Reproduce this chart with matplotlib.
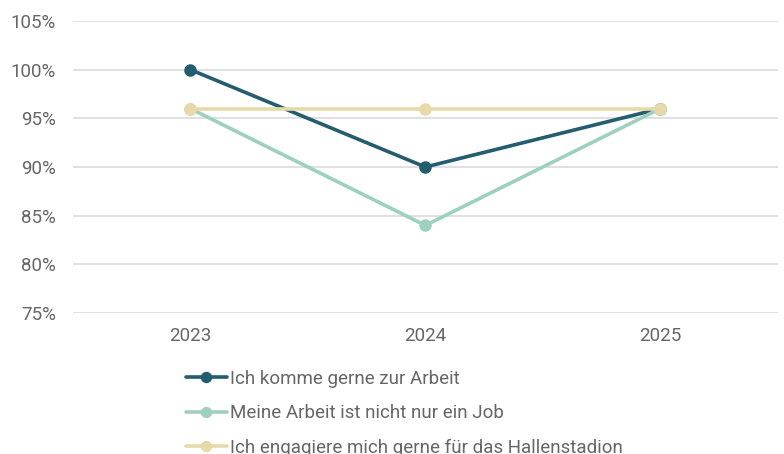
import numpy as np
import matplotlib.pyplot as plt

plt.rcParams['font.family'] = ['Roboto', 'DejaVu Sans']

years = ['2023', '2024', '2025']
arbeit = [100, 90, 96]
job = [96, 84, 96]
engagiere = [96, 96, 96]
labels = ['Ich komme gerne zur Arbeit',
          'Meine Arbeit ist nicht nur ein Job',
          'Ich engagiere mich gerne für das Hallenstadion']
colors = ['#245D6F', '#9DD1BE', '#E8D9A9']

fig = plt.figure(figsize=(7.84, 4.54), dpi=100)
ax = fig.add_axes([0.093, 0.3106, 0.899, 0.6431])

x = np.arange(len(years))
for vals, lab, col in zip([arbeit, job, engagiere], labels, colors):
    ax.plot(x, vals, color=col, lw=2.6, marker='o', markersize=8,
            label=lab, solid_capstyle='round')

ax.set_xlim(-0.5, 2.5)
ax.set_ylim(75, 105)
ax.set_yticks(range(75, 106, 5))
ax.set_yticklabels([f'{v}%' for v in range(75, 106, 5)])
ax.set_xticks(x)
ax.set_xticklabels(years)
ax.grid(axis='y', color='#dddddd', lw=1.3)
ax.set_axisbelow(True)
for s in ax.spines.values():
    s.set_visible(False)
ax.tick_params(length=0, labelsize=13.5, labelcolor='#666666')
ax.tick_params(axis='x', pad=10)
ax.tick_params(axis='y', pad=12)

leg = fig.legend(loc='upper left', bbox_to_anchor=(0.237, 0.185), frameon=False,
                 fontsize=13.5, handlelength=2.2, handletextpad=0.15,
                 labelspacing=0.87, borderaxespad=0, borderpad=0, markerscale=0.9)
for t in leg.get_texts():
    t.set_color('#666666')

fig.savefig('out.png', dpi=100)
